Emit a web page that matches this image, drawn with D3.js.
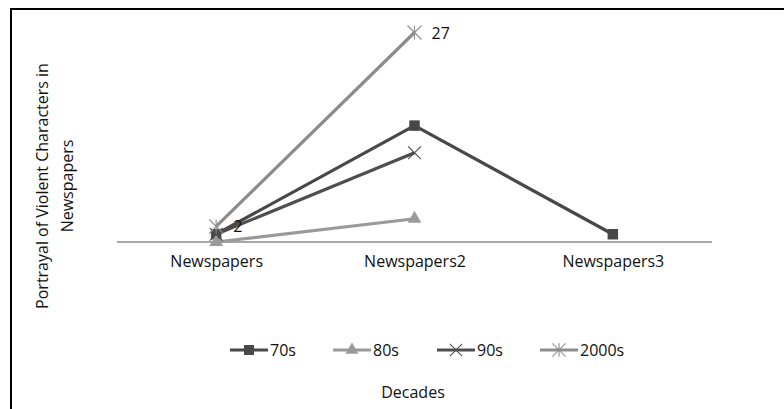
<!DOCTYPE html>
<html><head><meta charset="utf-8">
<script src="https://cdn.jsdelivr.net/npm/d3@7"></script>
<style>body{margin:0;background:#fff}svg{display:block}</style>
</head><body><svg id="c" width="784" height="409"></svg>
<script>
const categories = ["Newspapers", "Newspapers2", "Newspapers3"];
const seriesNames = ["70s", "80s", "90s", "2000s"];
const s70 = [1, 15, 1];
const s80 = [0, 3, null];
const s90 = [1, 11.5, null];
const s2000 = [2, 27, null];
const dataLabels2000 = ["2", "27", null];
const yTitle = ["Portrayal of Violent Characters in", "Newspapers"];
const xTitle = "Decades";

const series = [
  {name: seriesNames[0], values: s70, color: "#484848", marker: "square"},
  {name: seriesNames[1], values: s80, color: "#9a9a9a", marker: "triangle"},
  {name: seriesNames[2], values: s90, color: "#4e4e4e", marker: "x"},
  {name: seriesNames[3], values: s2000, color: "#8c8c8c", marker: "star", labels: dataLabels2000}
];

const svg = d3.select("#c");
const font = "'Open Sans', 'Liberation Sans', sans-serif";
const fs = 16;

// frame
svg.append("rect").attr("x", 11).attr("y", 9).attr("width", 800).attr("height", 420)
  .attr("fill", "none").attr("stroke", "#000").attr("stroke-width", 2);

const x = d3.scalePoint().domain(categories).range([117, 712]).padding(0.5);
const y = d3.scaleLinear().domain([0, 27]).range([242, 32.5]);

// axis
const xAxis = d3.axisBottom(x).tickSize(0).tickPadding(14);
const gx = svg.append("g").attr("transform", `translate(0,${y(0)})`).call(xAxis);
gx.select(".domain").attr("stroke", "#8a8a8a").attr("stroke-width", 1.3)
  .attr("d", `M117,0H712`);
gx.selectAll("text").attr("font-family", font).attr("font-size", fs).attr("fill", "#111");

const sym = {
  square: d3.symbol().type(d3.symbolSquare).size(110),
  triangle: d3.symbol().type(d3.symbolTriangle).size(80),
  x: d3.symbol().type(d3.symbolX).size(110),
  star: d3.symbol().type(d3.symbolX).size(130)
};

function drawMarker(g, s, cx, cy, scale) {
  scale = scale || 1;
  if (s.marker === "square" || s.marker === "triangle") {
    g.append("path").attr("d", sym[s.marker]()).attr("transform", `translate(${cx},${cy}) scale(${scale})`)
      .attr("fill", s.color);
  } else {
    g.append("path").attr("d", sym[s.marker]()).attr("transform", `translate(${cx},${cy}) scale(${scale})`)
      .attr("fill", "none").attr("stroke", s.color).attr("stroke-width", 1.1);
    if (s.marker === "star") {
      g.append("line").attr("x1", cx).attr("x2", cx).attr("y1", cy - 7 * scale).attr("y2", cy + 7 * scale)
        .attr("stroke", s.color).attr("stroke-width", 1.1);
    }
  }
}

const line = d3.line().defined(d => d.v != null).x(d => x(d.c)).y(d => y(d.v));
series.forEach(s => {
  const pts = categories.map((c, i) => ({c, v: s.values[i]}));
  const g = svg.append("g");
  g.append("path").datum(pts).attr("d", line).attr("fill", "none")
    .attr("stroke", s.color).attr("stroke-width", 3.2).attr("stroke-linejoin", "round");
  pts.filter(p => p.v != null).forEach(p => drawMarker(g, s, x(p.c), y(p.v)));
  if (s.labels) {
    pts.forEach((p, i) => {
      if (s.labels[i] == null) return;
      g.append("text").attr("x", x(p.c) + 17).attr("y", y(p.v) + 6)
        .attr("font-family", font).attr("font-size", fs).attr("fill", "#111").text(s.labels[i]);
    });
  }
});

// legend
const legendX = [230, 333, 437, 540];
series.forEach((s, i) => {
  const g = svg.append("g");
  const lx = legendX[i], ly = 350;
  g.append("line").attr("x1", lx).attr("x2", lx + 38).attr("y1", ly).attr("y2", ly)
    .attr("stroke", s.color).attr("stroke-width", 3.2);
  drawMarker(g, s, lx + 19, ly, 0.95);
  g.append("text").attr("x", lx + 40).attr("y", ly + 6).attr("font-family", font)
    .attr("font-size", fs).attr("fill", "#111").text(s.name);
});

// axis titles
svg.append("text").attr("x", 413).attr("y", 398).attr("text-anchor", "middle")
  .attr("font-family", font).attr("font-size", fs).attr("fill", "#111").text(xTitle);
const yt = svg.append("text").attr("transform", "translate(0,186) rotate(-90)")
  .attr("text-anchor", "middle").attr("font-family", font).attr("font-size", fs).attr("fill", "#111");
yt.append("tspan").attr("x", 0).attr("y", 48).text(yTitle[0]);
yt.append("tspan").attr("x", 0).attr("y", 73).text(yTitle[1]);
</script></body></html>
